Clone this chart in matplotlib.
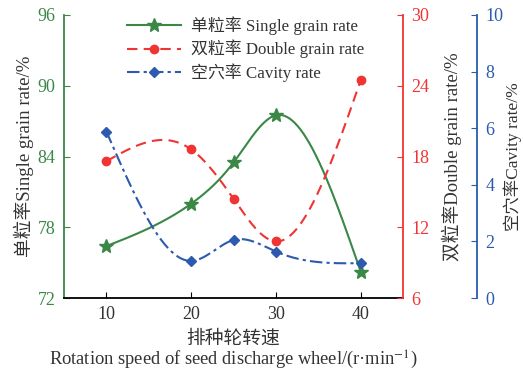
import numpy as np
import matplotlib
matplotlib.use("Agg")
import matplotlib.pyplot as plt

plt.rcParams['font.family'] = ['Liberation Serif', 'Noto Sans CJK SC']
plt.rcParams['mathtext.fontset'] = 'stix'

speed = [10, 20, 25, 30, 40]
single_rate = [76.4, 80.0, 83.5, 87.5, 74.2]
double_rate = [17.6, 18.6, 14.4, 10.8, 24.5]
cavity_rate = [5.88, 1.31, 2.05, 1.64, 1.23]

green = '#3a8746'
red = '#f03434'
blue = '#2b5aae'
txt = '#333333'


def natural_spline(x, y, n=300):
    # natural cubic spline, only used to draw the smooth line between points
    x = np.asarray(x, float)
    y = np.asarray(y, float)
    k = len(x)
    h = np.diff(x)
    A = np.zeros((k, k))
    b = np.zeros(k)
    A[0, 0] = 1
    A[-1, -1] = 1
    for i in range(1, k - 1):
        A[i, i - 1] = h[i - 1]
        A[i, i] = 2 * (h[i - 1] + h[i])
        A[i, i + 1] = h[i]
        b[i] = 3 * ((y[i + 1] - y[i]) / h[i] - (y[i] - y[i - 1]) / h[i - 1])
    c = np.linalg.solve(A, b)
    xs = np.linspace(x[0], x[-1], n)
    ys = np.empty_like(xs)
    for j, xv in enumerate(xs):
        i = min(np.searchsorted(x, xv, side='right') - 1, k - 2)
        d = xv - x[i]
        bi = (y[i + 1] - y[i]) / h[i] - h[i] * (2 * c[i] + c[i + 1]) / 3
        di = (c[i + 1] - c[i]) / (3 * h[i])
        ys[j] = y[i] + bi * d + c[i] * d ** 2 + di * d ** 3
    return xs, ys


fig = plt.figure(figsize=(5.23, 3.74), dpi=100)
ax = fig.add_axes([0.1224, 0.2032, 0.6486, 0.7567])
ax2 = ax.twinx()
ax3 = ax.twinx()
ax3.spines['right'].set_position(('axes', 1.217))

xs, ys = natural_spline(speed, single_rate)
ax.plot(xs, ys, color=green, lw=1.5)
ax.plot(speed, single_rate, '*', color=green, ms=10, ls='none')
xs, ys = natural_spline(speed, double_rate)
ax2.plot(xs, ys, color=red, lw=1.5, ls=(0, (5, 3)))
ax2.plot(speed, double_rate, 'o', color=red, ms=6, ls='none')
xs, ys = natural_spline(speed, cavity_rate)
ax3.plot(xs, ys, color=blue, lw=1.5, ls=(0, (6, 2, 1.5, 2)))
ax3.plot(speed, cavity_rate, 'D', color=blue, ms=5.5, ls='none')

ax.set_xlim(5, 45)
ax.set_ylim(72, 96)
ax2.set_ylim(6, 30)
ax3.set_ylim(0, 10)
ax.set_xticks([10, 20, 30, 40])
ax.set_yticks([72, 78, 84, 90, 96])
ax2.set_yticks([6, 12, 18, 24, 30])
ax3.set_yticks([0, 2, 4, 6, 8, 10])

for a in (ax, ax2, ax3):
    a.spines['top'].set_visible(False)
ax.spines['right'].set_visible(False)
ax2.spines['left'].set_visible(False)
ax3.spines['left'].set_visible(False)
ax2.spines['bottom'].set_visible(False)
ax3.spines['bottom'].set_visible(False)
ax.spines['left'].set_color(green)
ax.spines['bottom'].set_color('black')
ax2.spines['right'].set_color(red)
ax3.spines['right'].set_color(blue)
for a in (ax, ax2, ax3):
    for s in a.spines.values():
        s.set_linewidth(1.3)

ax.tick_params(axis='x', direction='in', length=4, colors='black', labelcolor=txt, labelsize=13, pad=6)
ax.tick_params(axis='y', direction='in', length=4, colors=green, labelcolor=green, labelsize=13, pad=6)
ax2.tick_params(axis='y', direction='in', length=4, colors=red, labelcolor=red, labelsize=13, pad=6)
ax3.tick_params(axis='y', direction='in', length=4, colors=blue, labelcolor=blue, labelsize=13, pad=6)

ax.set_ylabel('单粒率Single grain rate/%', fontsize=13.5, color=txt, labelpad=3)
ax2.set_ylabel('双粒率Double grain rate/%', fontsize=13.5, color=txt, labelpad=9)
ax3.set_ylabel('空穴率Cavity rate/%', fontsize=12.5, color=txt, labelpad=0)
fig.text(0.4455, 0.093, '排种轮转速', ha='center', va='center', fontsize=13.5, color=txt)
fig.text(0.4455, 0.038, 'Rotation speed of seed discharge wheel/(r·min$^{-1}$)',
         ha='center', va='center', fontsize=13.3, color=txt)

h1, = ax.plot([], [], color=green, lw=1.5, marker='*', ms=10)
h2, = ax.plot([], [], color=red, lw=1.5, ls=(0, (5, 3)), marker='o', ms=6)
h3, = ax.plot([], [], color=blue, lw=1.5, ls=(0, (6, 2, 1.5, 2)), marker='D', ms=5.5)
ax3.legend([h1, h2, h3], ['单粒率 Single grain rate', '双粒率 Double grain rate', '空穴率 Cavity rate'],
           loc='upper left', bbox_to_anchor=(0.14, 1.05), frameon=False, fontsize=12.2,
           handlelength=3.2, handletextpad=0.6, labelspacing=0.3, labelcolor=txt)

fig.savefig('out.png', dpi=100)
